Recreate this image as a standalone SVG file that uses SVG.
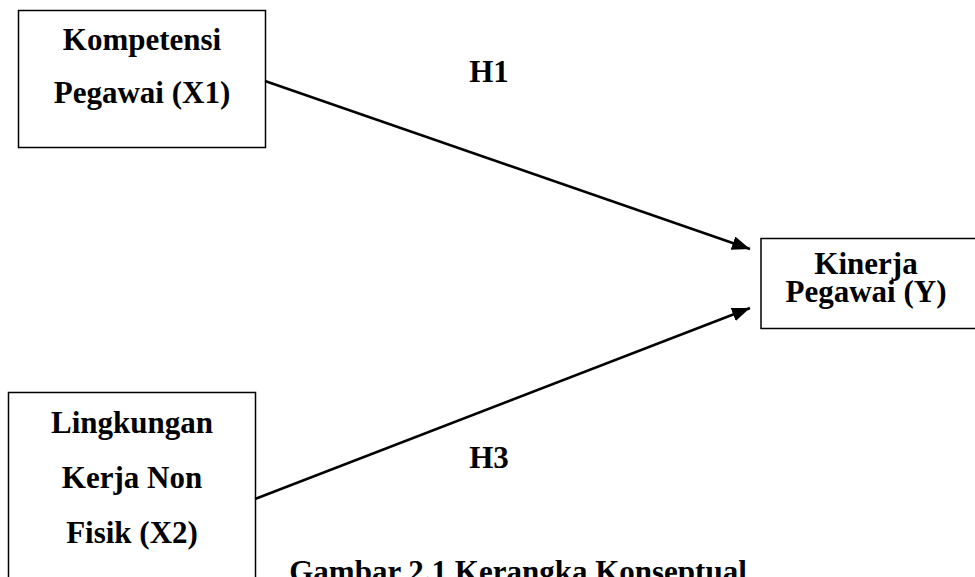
<svg xmlns="http://www.w3.org/2000/svg" width="975" height="577" viewBox="0 0 975 577">
<style>
.box{fill:#fff;stroke:#000;stroke-width:1.5}
.t{font-family:"Liberation Serif","Times New Roman",serif;font-weight:bold;font-size:31px;fill:#000;text-anchor:middle}
.c{stroke:#000;stroke-width:2.5;fill:none}
</style>
<defs>
<marker id="ah" markerUnits="userSpaceOnUse" markerWidth="20" markerHeight="14" refX="18" refY="7" orient="auto">
<path d="M0,0 L18,7 L0,14 Z" fill="#000"/>
</marker>
</defs>
<rect width="975" height="577" fill="#fff"/>
<g id="node-x1">
<rect class="box" x="18.5" y="10.5" width="247" height="137"/>
<text class="t" x="142" y="50">Kompetensi</text>
<text class="t" x="142" y="103">Pegawai (X1)</text>
</g>
<g id="node-x2">
<rect class="box" x="8.5" y="392.5" width="247" height="200"/>
<text class="t" x="132" y="433">Lingkungan</text>
<text class="t" x="132" y="488">Kerja Non</text>
<text class="t" x="132" y="543">Fisik (X2)</text>
</g>
<g id="node-y">
<rect class="box" x="761" y="238.5" width="230" height="90"/>
<text class="t" x="866" y="274">Kinerja</text>
<text class="t" x="866" y="302">Pegawai (Y)</text>
</g>
<g id="connectors">
<line class="c" x1="265" y1="81" x2="750" y2="249" marker-end="url(#ah)"/>
<line class="c" x1="255" y1="499" x2="750" y2="308" marker-end="url(#ah)"/>
</g>
<g id="labels">
<text class="t" x="489" y="82">H1</text>
<text class="t" x="489" y="468">H3</text>
<text class="t" x="518" y="582">Gambar 2.1 Kerangka Konseptual</text>
</g>
</svg>
